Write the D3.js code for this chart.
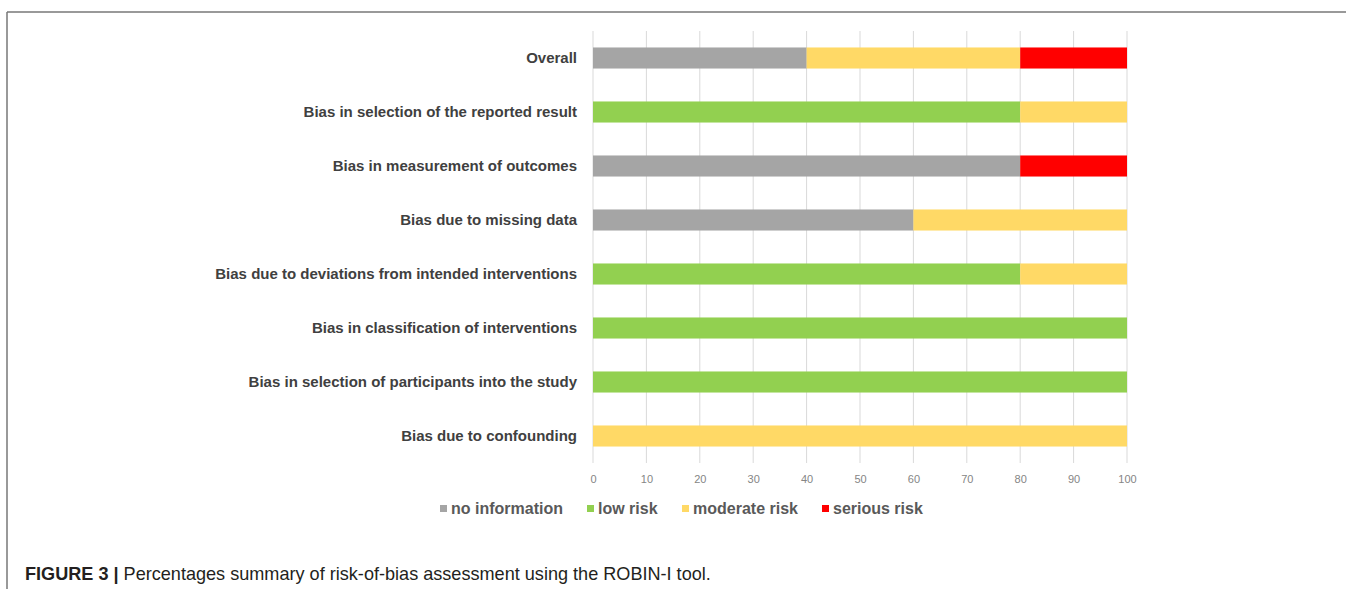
<!DOCTYPE html>
<html><head><meta charset="utf-8">
<script src="https://cdn.jsdelivr.net/npm/d3@7"></script>
<style>body{margin:0;background:#fff}svg{display:block}</style>
</head><body>
<svg id="c" width="1346" height="589"></svg>
<script>
const categories = ["Overall","Bias in selection of the reported result","Bias in measurement of outcomes","Bias due to missing data","Bias due to deviations from intended interventions","Bias in classification of interventions","Bias in selection of participants into the study","Bias due to confounding"];
const seriesNames = ["no information","low risk","moderate risk","serious risk"];
const noInformation = [40,0,80,60,0,0,0,0];
const lowRisk = [0,80,0,0,80,100,100,0];
const moderateRisk = [40,20,0,40,20,0,0,100];
const seriousRisk = [20,0,20,0,0,0,0,0];
const tickValues = [0,10,20,30,40,50,60,70,80,90,100];
const colors = ["#A5A5A5","#92D050","#FFD966","#FF0000"];

const svg = d3.select("#c");
svg.append("line").attr("x1",7).attr("x2",1346).attr("y1",12).attr("y2",12).attr("stroke","#777").attr("stroke-width",1.5);
svg.append("line").attr("x1",7).attr("x2",7).attr("y1",12).attr("y2",589).attr("stroke","#777").attr("stroke-width",1.5);

const x = d3.scaleLinear().domain([0,100]).range([593,1127]);
const y = d3.scaleBand().domain(categories).range([31,463]).paddingInner(0.61).paddingOuter(0.305);

svg.append("g").selectAll("line").data(tickValues).join("line")
  .attr("x1",d=>x(d)).attr("x2",d=>x(d)).attr("y1",31).attr("y2",463)
  .attr("stroke","#d9d9d9").attr("stroke-width",1);

const rows = categories.map((c,i)=>({cat:c, vals:[noInformation[i],lowRisk[i],moderateRisk[i],seriousRisk[i]]}));
const stack = d3.stack().keys([0,1,2,3]).value((d,k)=>d.vals[k]);
const series = stack(rows);
svg.append("g").selectAll("g").data(series).join("g").attr("fill",(d,i)=>colors[i])
  .selectAll("rect").data(d=>d).join("rect")
  .attr("x",d=>x(d[0])).attr("width",d=>x(d[1])-x(d[0]))
  .attr("y",d=>y(d.data.cat)).attr("height",y.bandwidth());

svg.append("g").selectAll("text").data(categories).join("text")
  .attr("x",577).attr("y",d=>y(d)+y.bandwidth()/2+5)
  .attr("text-anchor","end").attr("font-family","'Liberation Sans', Arial, sans-serif")
  .attr("font-weight","bold").attr("font-size",15).attr("fill","#404040").text(d=>d);

const ax = svg.append("g").attr("transform","translate(0,463)")
  .call(d3.axisBottom(x).tickValues(tickValues).tickSize(0).tickPadding(12));
ax.select(".domain").remove();
ax.selectAll("text").attr("font-family","'Liberation Sans', sans-serif").attr("font-size",11).attr("fill","#858585");

const legX = [440,587,682,822];
const lg = svg.append("g").selectAll("g").data(seriesNames).join("g")
  .attr("transform",(d,i)=>`translate(${legX[i]},508)`);
lg.append("rect").attr("x",0).attr("y",-3).attr("width",7).attr("height",7).attr("fill",(d,i)=>colors[i]);
lg.append("text").attr("x",11).attr("y",6).attr("font-family","'Liberation Sans', Arial, sans-serif")
  .attr("font-weight","bold").attr("font-size",16).attr("fill","#595959").text(d=>d);

const cap = svg.append("text").attr("x",25).attr("y",580).attr("font-family","'Liberation Sans', Arial, sans-serif").attr("font-size",18.1).attr("fill","#231f20");
cap.append("tspan").attr("font-weight","bold").text("FIGURE 3 | ");
cap.append("tspan").text("Percentages summary of risk-of-bias assessment using the ROBIN-I tool.");
</script>
</body></html>
